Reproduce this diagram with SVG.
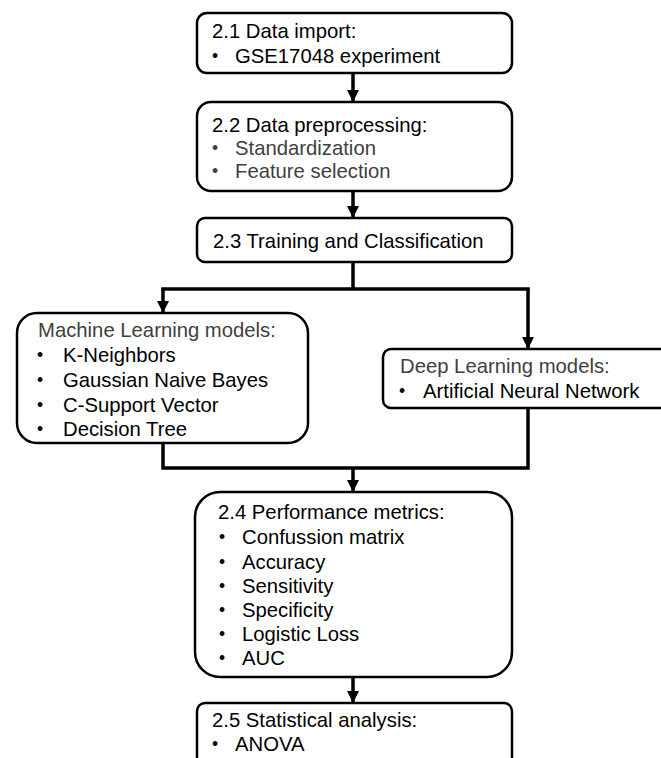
<svg xmlns="http://www.w3.org/2000/svg" width="661" height="758" viewBox="0 0 661 758">
<style>
.box{fill:#fff;stroke:#000;stroke-width:2.5}
.t{font-family:"Liberation Sans",Arial,sans-serif;font-size:20.3px;fill:#000}
.b{font-family:"Liberation Sans",Arial,sans-serif;font-size:17.5px;fill:#000}
.g{fill:#404040}
.c{fill:none;stroke:#000;stroke-width:3.5}
</style>
<defs>
<marker id="ah" markerUnits="userSpaceOnUse" markerWidth="12" markerHeight="12" refX="12" refY="6" orient="auto">
<path d="M0,0 L12,6 L0,12 Z" fill="#000"/>
</marker>
</defs>
<rect width="661" height="758" fill="#fff"/>
<g id="connectors">
<line class="c" x1="353" y1="73" x2="353" y2="102" marker-end="url(#ah)"/>
<line class="c" x1="353" y1="191" x2="353" y2="218" marker-end="url(#ah)"/>
<line class="c" x1="353" y1="262" x2="353" y2="289"/>
<line class="c" x1="161.25" y1="289" x2="529.75" y2="289"/>
<line class="c" x1="163" y1="289" x2="163" y2="313" marker-end="url(#ah)"/>
<line class="c" x1="528" y1="289" x2="528" y2="349" marker-end="url(#ah)"/>
<polyline class="c" points="163,443 163,468 528,468 528,408"/>
<line class="c" x1="353" y1="468" x2="353" y2="492" marker-end="url(#ah)"/>
<line class="c" x1="353" y1="677" x2="353" y2="703" marker-end="url(#ah)"/>
</g>
<g id="n1">
<rect class="box" x="197" y="13" width="315" height="60" rx="10"/>
<text class="t" x="212" y="38">2.1 Data import:</text>
<text class="b" x="212" y="62">•</text>
<text class="t" x="235" y="63">GSE17048 experiment</text>
</g>
<g id="n2">
<rect class="box" x="197" y="102" width="315" height="89" rx="14"/>
<text class="t" x="212" y="132">2.2 Data preprocessing:</text>
<text class="b g" x="212" y="154">•</text>
<text class="t g" x="235" y="155">Standardization</text>
<text class="b g" x="212" y="177">•</text>
<text class="t g" x="235" y="178">Feature selection</text>
</g>
<g id="n3">
<rect class="box" x="197" y="218" width="315" height="44" rx="8"/>
<text class="t" x="213" y="248">2.3 Training and Classification</text>
</g>
<g id="ml">
<rect class="box" x="17" y="313" width="291" height="130" rx="20"/>
<text class="t g" x="38" y="337">Machine Learning models:</text>
<text class="b" x="37" y="361">•</text>
<text class="t" x="63" y="362">K-Neighbors</text>
<text class="b" x="37" y="386">•</text>
<text class="t" x="63" y="387">Gaussian Naive Bayes</text>
<text class="b" x="37" y="411">•</text>
<text class="t" x="63" y="412">C-Support Vector</text>
<text class="b" x="37" y="435">•</text>
<text class="t" x="63" y="436">Decision Tree</text>
</g>
<g id="dl">
<rect class="box" x="383" y="349" width="300" height="59" rx="8"/>
<text class="t g" x="400" y="373">Deep Learning models:</text>
<text class="b" x="399" y="397">•</text>
<text class="t" x="423" y="398">Artificial Neural Network</text>
</g>
<g id="n4">
<rect class="box" x="195" y="492" width="317" height="185" rx="25"/>
<text class="t" x="218" y="519">2.4 Performance metrics:</text>
<text class="b" x="219" y="543">•</text>
<text class="t" x="242" y="544">Confussion matrix</text>
<text class="b" x="219" y="568">•</text>
<text class="t" x="242" y="569">Accuracy</text>
<text class="b" x="219" y="592">•</text>
<text class="t" x="242" y="593">Sensitivity</text>
<text class="b" x="219" y="616">•</text>
<text class="t" x="242" y="617">Specificity</text>
<text class="b" x="219" y="640">•</text>
<text class="t" x="242" y="641">Logistic Loss</text>
<text class="b" x="219" y="664">•</text>
<text class="t" x="242" y="665">AUC</text>
</g>
<g id="n5">
<rect class="box" x="197" y="703" width="315" height="70" rx="8"/>
<text class="t" x="212" y="727">2.5 Statistical analysis:</text>
<text class="b" x="212" y="750">•</text>
<text class="t" x="235" y="751">ANOVA</text>
</g>
</svg>
